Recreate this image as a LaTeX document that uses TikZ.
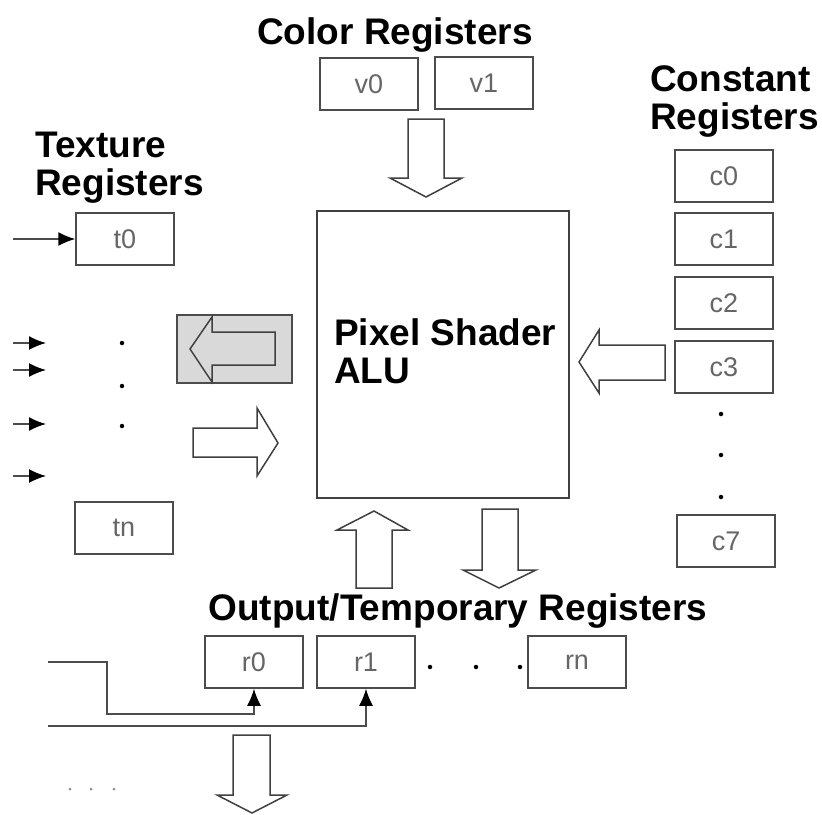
\documentclass[tikz,border=0pt]{standalone}
\usepackage{fontspec}
\setmainfont{Liberation Sans}
\usetikzlibrary{arrows.meta}

\tikzset{
  reg/.style={draw=black!70, line width=1.5pt, minimum width=98pt, minimum height=52pt,
    inner sep=0pt, text=black!60, font=\fontsize{27}{30}\selectfont},
  heading/.style={font=\fontsize{37}{38}\selectfont\bfseries, inner sep=0pt, align=left},
  fat/.style={draw=black!75, line width=1.5pt, fill=white, line join=miter},
  feed/.style={line width=1.5pt, draw=black!70, -{Latex[length=17pt,width=14pt,color=black]}},
  dot/.style={circle, fill=black, inner sep=0pt, minimum size=4.5pt},
  smalldot/.style={circle, fill=black!45, inner sep=0pt, minimum size=3pt},
}

\begin{document}
\begin{tikzpicture}[x=1pt, y=-1pt]
    \useasboundingbox (0,0) rectangle (822,814);

    % headings
    \node[heading, anchor=base] (colorlbl) at (395,44) {Color Registers};
    \node[heading, anchor=north west] (texlbl) at (35,132) {Texture\\Registers};
    \node[heading, anchor=north west] (constlbl) at (650,65) {Constant\\Registers};
    \node[heading, anchor=base] (outlbl) at (458,620) {Output/Temporary Registers};

    % the ALU
    \node[draw=black!75, line width=1.5pt, minimum width=252pt, minimum height=287pt] (alu) at (443,354.5) {};
    \node[heading, anchor=north west] (alulbl) at (334,318) {Pixel Shader\\ALU};

    % color registers
    \node[reg] (v0) at (369,84) {v0};
    \node[reg] (v1) at (484,83) {v1};

    % texture registers
    \node[reg] (t0) at (125,239) {t0};
    \node[reg] (tn) at (124,528) {tn};
    \coordinate (in0) at (13,239);
    \draw[feed] (in0) -- (t0.west);
    \foreach \y [count=\i] in {343,370,424,476} {
      \coordinate (s\i) at (13,\y);
      \coordinate (e\i) at (46,\y);
      \draw[feed] (s\i) -- (e\i);
    }
    \foreach \y [count=\i] in {343,386,426}
      \node[dot] (tdot\i) at (122,\y) {};

    % constant registers
    \foreach \n/\y in {0/176,1/239,2/303,3/367}
      \node[reg] (c\n) at (724,\y) {c\n};
    \node[reg] (c7) at (726,541) {c7};
    \foreach \y [count=\i] in {414,455,497}
      \node[dot] (cdot\i) at (721,\y) {};

    % output/temporary registers
    \node[reg] (r0) at (254,662) {r0};
    \node[reg] (r1) at (366,662) {r1};
    \node[reg] (rn) at (577,662) {rn};
    \foreach \x [count=\i] in {430,476,520}
      \node[dot] (rdot\i) at (\x,667) {};
    \coordinate (in1) at (48,662);
    \coordinate (bend) at (107,714);
    \coordinate (in2) at (48,726);
    \draw[feed] (in1) -| (bend) -| (r0.south);
    \draw[feed] (in2) -| (r1.south);
    \foreach \x [count=\i] in {70,91,114}
      \node[smalldot] (odot\i) at (\x,789) {};

    % big arrows
    \draw[fat] (408,119) -- (444,119) -- (444,178) -- (462,178) -- (426,197) -- (390,178) -- (408,178) -- cycle;
    \draw[draw=black!70, line width=1.5pt, fill=black!15] (177,315) rectangle (292,383);
    \draw[fat, fill=black!15] (190,349) -- (212,317) -- (212,332) -- (275,332) -- (275,365) -- (212,365) -- (212,382) -- cycle;
    \draw[fat] (193,428) -- (257,428) -- (257,408) -- (278,443) -- (257,476) -- (257,457) -- (193,457) -- cycle;
    \draw[fat] (579,362) -- (599,330) -- (599,345) -- (665,345) -- (665,380) -- (599,380) -- (599,393) -- cycle;
    \draw[fat] (374,511) -- (408,530) -- (392,530) -- (392,588) -- (356,588) -- (356,530) -- (337,530) -- cycle;
    \draw[fat] (482,509) -- (518,509) -- (518,570) -- (536,570) -- (499,588) -- (463,570) -- (482,570) -- cycle;
    \draw[fat] (233,735) -- (270,735) -- (270,795) -- (287,795) -- (252,813) -- (217,795) -- (233,795) -- cycle;
\end{tikzpicture}
\end{document}
